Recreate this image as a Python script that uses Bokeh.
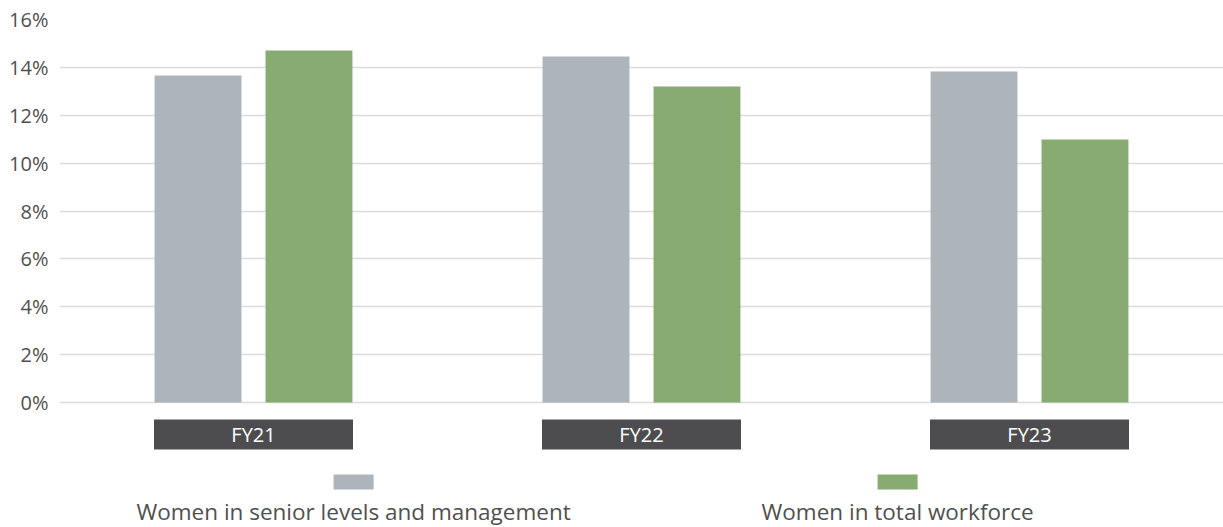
from bokeh.plotting import figure
from bokeh.models import ColumnDataSource, FactorRange, Range1d, FixedTicker, CustomJSTickFormatter
from bokeh.transform import dodge
from bokeh.core.properties import value
from bokeh.embed import file_html
from bokeh.resources import INLINE

categories = ["FY21", "FY22", "FY23"]
senior = [13.66, 14.45, 13.83]
workforce = [14.70, 13.20, 10.99]
series_names = ["Women in senior levels and management", "Women in total workforce"]
tick_values = [0, 2, 4, 6, 8, 10, 12, 14, 16]

GRAY = "#adb5bb"
GREEN = "#88ab72"
DARK = "#4d4d4f"
TEXT = "#505050"
FONT = "Open Sans"

src = ColumnDataSource(dict(cat=categories, senior=senior, workforce=workforce))

px_per_unit = 383 / 16.0
frame_h = 508
y_top = 16
y_bottom = y_top - frame_h / px_per_unit

p = figure(width=1223, height=527, x_range=FactorRange(factors=categories, range_padding=0),
           y_range=Range1d(y_bottom, y_top), output_backend="svg", toolbar_location=None,
           min_border_left=59, min_border_right=0, min_border_top=19, min_border_bottom=0)
p.outline_line_color = None
p.background_fill_color = "white"
p.border_fill_color = "white"

p.vbar(x=dodge("cat", -0.143, range=p.x_range), top="senior", bottom=0, width=0.224,
       source=src, fill_color=GRAY, line_color=None)
p.vbar(x=dodge("cat", 0.143, range=p.x_range), top="workforce", bottom=0, width=0.224,
       source=src, fill_color=GREEN, line_color=None)

# category label boxes
lab_y = -32 / px_per_unit
p.rect(x="cat", y=lab_y, width=199, height=30, width_units="screen", height_units="screen",
       source=src, fill_color=DARK, line_color=None)
p.text(x="cat", y=lab_y, text="cat", source=src, text_color="white", text_font=value(FONT),
       text_font_size="20px", text_align="center", text_baseline="middle")

# legend
leg_x = [0.758, 2.16]
sw_y = -79.5 / px_per_unit
tx_y = -109 / px_per_unit
p.rect(x=leg_x, y=[sw_y, sw_y], width=40, height=15, width_units="screen", height_units="screen",
       fill_color=[GRAY, GREEN], line_color=None)
p.text(x=leg_x, y=[tx_y, tx_y], text=series_names, text_color=TEXT, text_font=value(FONT),
       text_font_size="22.5px", text_align="center", text_baseline="middle")

p.xaxis.visible = False
p.xgrid.grid_line_color = None
p.ygrid.grid_line_color = "#dcdcdc"
p.ygrid.grid_line_width = 1.3
p.yaxis.ticker = FixedTicker(ticks=tick_values)
p.yaxis.formatter = CustomJSTickFormatter(code="return tick + '%';")
p.yaxis.axis_line_color = None
p.yaxis.major_tick_line_color = None
p.yaxis.minor_tick_line_color = None
p.yaxis.major_tick_out = 0
p.yaxis.major_tick_in = 0
p.yaxis.major_label_standoff = 11
p.yaxis.major_label_text_font = FONT
p.yaxis.major_label_text_font_size = "20px"
p.yaxis.major_label_text_color = TEXT

open("out.html", "w").write(file_html(p, INLINE))
